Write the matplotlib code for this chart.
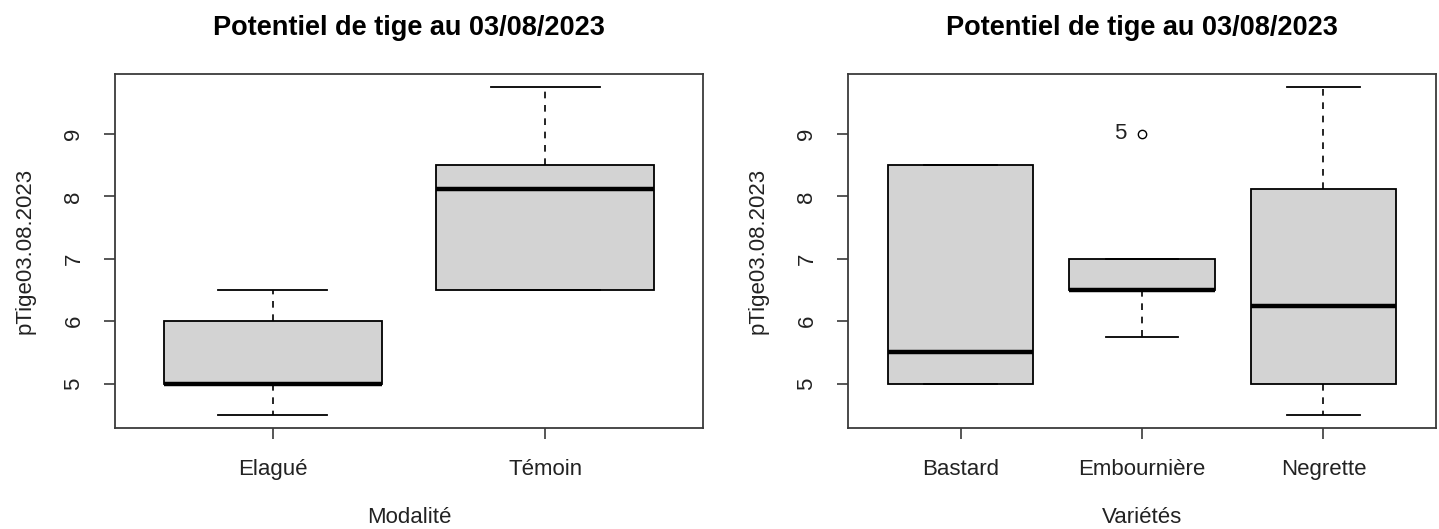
import matplotlib
matplotlib.use("Agg")
import matplotlib.pyplot as plt

plt.rcParams['font.family'] = ['Liberation Sans', 'DejaVu Sans']

title = "Potentiel de tige au 03/08/2023"
ylab = "pTige03.08.2023"

# panel 1 : Modalité
mod_names = ["Elagué", "Témoin"]
mod_whislo = [4.5, 6.5]
mod_q1 = [5.0, 6.5]
mod_med = [5.0, 8.125]
mod_q3 = [6.0, 8.5]
mod_whishi = [6.5, 9.75]
mod_fliers = [[], []]

# panel 2 : Variétés
var_names = ["Bastard", "Embournière", "Negrette"]
var_whislo = [5.0, 5.75, 4.5]
var_q1 = [5.0, 6.5, 5.0]
var_med = [5.5, 6.5, 6.25]
var_q3 = [8.5, 7.0, 8.125]
var_whishi = [8.5, 7.0, 9.75]
var_fliers = [[], [9.0], []]
var_flier_ids = [[], ["5"], []]

edge = "#3a3a3a"
fill = "#d3d3d3"
txt = "#222222"


def r_boxplot(ax, names, wlo, q1, med, q3, whi, fliers, xlabel):
    stats = []
    for i in range(len(names)):
        stats.append(dict(whislo=wlo[i], q1=q1[i], med=med[i], q3=q3[i],
                          whishi=whi[i], fliers=fliers[i], label=names[i]))
    pos = list(range(1, len(names) + 1))
    ax.bxp(stats, positions=pos, widths=0.8, patch_artist=True,
           boxprops=dict(facecolor=fill, edgecolor="black", linewidth=1.3),
           medianprops=dict(color="black", linewidth=3.2, solid_capstyle="butt"),
           whiskerprops=dict(color="black", linewidth=1.2, linestyle=(0, (4, 4))),
           capprops=dict(color="black", linewidth=1.3),
           capwidths=0.4,
           flierprops=dict(marker="o", markersize=6, markerfacecolor="none",
                           markeredgecolor="black", markeredgewidth=1.0))
    n = len(names)
    ax.set_xlim(0.5 - 0.04 * n, n + 0.5 + 0.04 * n)
    ax.set_ylim(4.29, 9.96)
    ax.set_yticks([5, 6, 7, 8, 9])
    ax.set_yticklabels(["5", "6", "7", "8", "9"], rotation=90, va="center")
    ax.set_xticks(pos)
    ax.set_xticklabels(names)
    ax.tick_params(axis="both", length=8, width=1.2, color=edge,
                   labelsize=16, labelcolor=txt)
    ax.tick_params(axis="x", pad=14.5)
    ax.tick_params(axis="y", pad=14)
    for s in ax.spines.values():
        s.set_color(edge)
        s.set_linewidth(1.3)
    ax.set_title(title, fontsize=19.5, fontweight="bold", pad=28)
    ax.set_xlabel(xlabel, fontsize=16, labelpad=19.5, color=txt)
    ax.set_ylabel(ylab, fontsize=16, labelpad=20, color=txt)


fig = plt.figure(figsize=(14.39, 5.29), dpi=100)
ax1 = fig.add_axes([0.0799, 0.191, 0.4086, 0.669])
ax2 = fig.add_axes([0.5893, 0.191, 0.4086, 0.669])

r_boxplot(ax1, mod_names, mod_whislo, mod_q1, mod_med, mod_q3, mod_whishi,
          mod_fliers, "Modalité")
r_boxplot(ax2, var_names, var_whislo, var_q1, var_med, var_q3, var_whishi,
          var_fliers, "Variétés")

for i, ids in enumerate(var_flier_ids):
    for j, lab in enumerate(ids):
        ax2.text(i + 1 - 0.12, var_fliers[i][j], lab, ha="center", va="center",
                 fontsize=16, color=txt)

fig.savefig("out.png", dpi=100)
